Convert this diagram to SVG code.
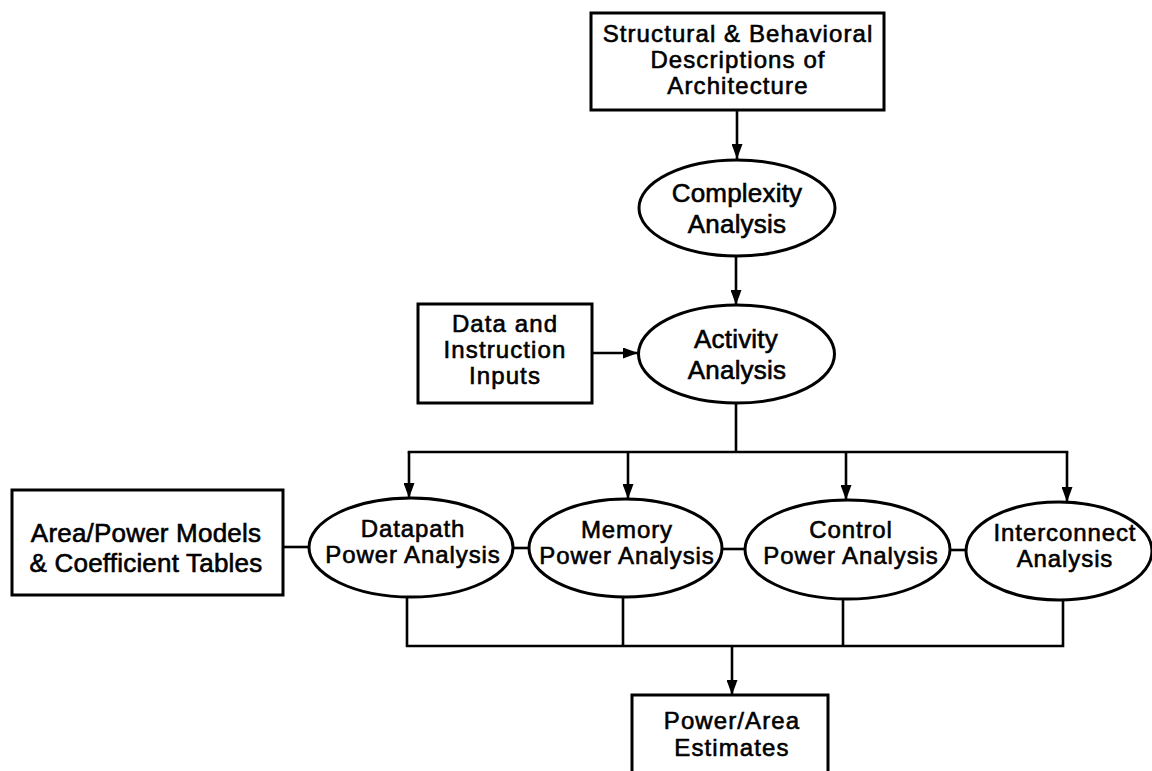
<svg xmlns="http://www.w3.org/2000/svg" width="1152" height="771" viewBox="0 0 1152 771">
  <style>
    .box { fill: #fff; stroke: #000; stroke-width: 3; }
    .oval { fill: #fff; stroke: #000; stroke-width: 3; }
    .wire { fill: none; stroke: #000; stroke-width: 2.6; stroke-linejoin: miter; stroke-linecap: square; }
    .arrow { marker-end: url(#head); stroke-linecap: butt; }
    text { font-family: "Liberation Sans", Arial, Helvetica, sans-serif; font-size: 26px; letter-spacing: 0.2px; fill: #000; stroke: #000; stroke-width: 0.6; text-anchor: middle; }
    text.row { font-size: 24px; letter-spacing: 0.9px; }
    text.tight { font-size: 24px; letter-spacing: 1.1px; }
  </style>
  <defs>
    <marker id="head" viewBox="0 0 15 11" refX="15" refY="5.5" markerWidth="15" markerHeight="11" markerUnits="userSpaceOnUse" orient="auto">
      <path d="M0,0 L15,5.5 L0,11 Z" fill="#000"/>
    </marker>
  </defs>
  <rect width="1152" height="771" fill="#fff"/>

  <!-- connectors -->
  <g id="connectors">
    <path class="wire arrow" d="M737,110 V159"/>
    <path class="wire arrow" d="M736,256 V305"/>
    <path class="wire arrow" d="M592,353 H638"/>
    <path class="wire" d="M736,403 V452 M409,452 H1067"/>
    <path class="wire arrow" d="M409,452 V498"/>
    <path class="wire arrow" d="M628,452 V499"/>
    <path class="wire arrow" d="M846,452 V500"/>
    <path class="wire arrow" d="M1067,452 V502"/>
    <path class="wire" d="M283,547 H309"/>
    <path class="wire" d="M513,548 H529"/>
    <path class="wire" d="M722,549 H745"/>
    <path class="wire" d="M950,550 H966"/>
    <path class="wire" d="M407,597 V646 H1063 V600 M623,597 V646 M843,599 V646"/>
    <path class="wire arrow" d="M732,646 V695"/>
  </g>

  <!-- architecture descriptions -->
  <g id="descriptions">
    <rect class="box" x="591" y="13" width="293" height="97"/>
    <text class="tight" x="738" y="42">Structural &amp; Behavioral</text>
    <text class="tight" x="738" y="68">Descriptions of</text>
    <text class="tight" x="738" y="94">Architecture</text>
  </g>

  <g id="complexity">
    <ellipse class="oval" cx="737" cy="208" rx="98" ry="48"/>
    <text x="737" y="202">Complexity</text>
    <text x="737" y="233">Analysis</text>
  </g>

  <g id="inputs">
    <rect class="box" x="418" y="304" width="174" height="99"/>
    <text class="tight" x="505" y="332">Data and</text>
    <text class="tight" x="505" y="358">Instruction</text>
    <text class="tight" x="505" y="384">Inputs</text>
  </g>

  <g id="activity">
    <ellipse class="oval" cx="736.5" cy="354" rx="98" ry="49"/>
    <text x="736" y="348">Activity</text>
    <text x="737" y="379">Analysis</text>
  </g>

  <g id="models">
    <rect class="box" x="12" y="490" width="271" height="105"/>
    <text x="146" y="542">Area/Power Models</text>
    <text x="146" y="572">&amp; Coefficient Tables</text>
  </g>

  <g id="datapath">
    <ellipse class="oval" cx="411" cy="547.5" rx="102" ry="49.5"/>
    <text class="row" x="413" y="537">Datapath</text>
    <text class="row" x="413" y="563">Power Analysis</text>
  </g>

  <g id="memory">
    <ellipse class="oval" cx="625.5" cy="548" rx="96.5" ry="49"/>
    <text class="row" x="627" y="538">Memory</text>
    <text class="row" x="627" y="564">Power Analysis</text>
  </g>

  <g id="control">
    <ellipse class="oval" cx="847.5" cy="549.5" rx="102.5" ry="49.5"/>
    <text class="row" x="851" y="538">Control</text>
    <text class="row" x="851" y="564">Power Analysis</text>
  </g>

  <g id="interconnect">
    <ellipse class="oval" cx="1059" cy="551" rx="93" ry="49"/>
    <text class="row" x="1065" y="541">Interconnect</text>
    <text class="row" x="1065" y="567">Analysis</text>
  </g>

  <g id="estimates">
    <rect class="box" x="632" y="695" width="196" height="90"/>
    <text class="tight" x="732" y="729">Power/Area</text>
    <text class="tight" x="732" y="756">Estimates</text>
  </g>
</svg>
